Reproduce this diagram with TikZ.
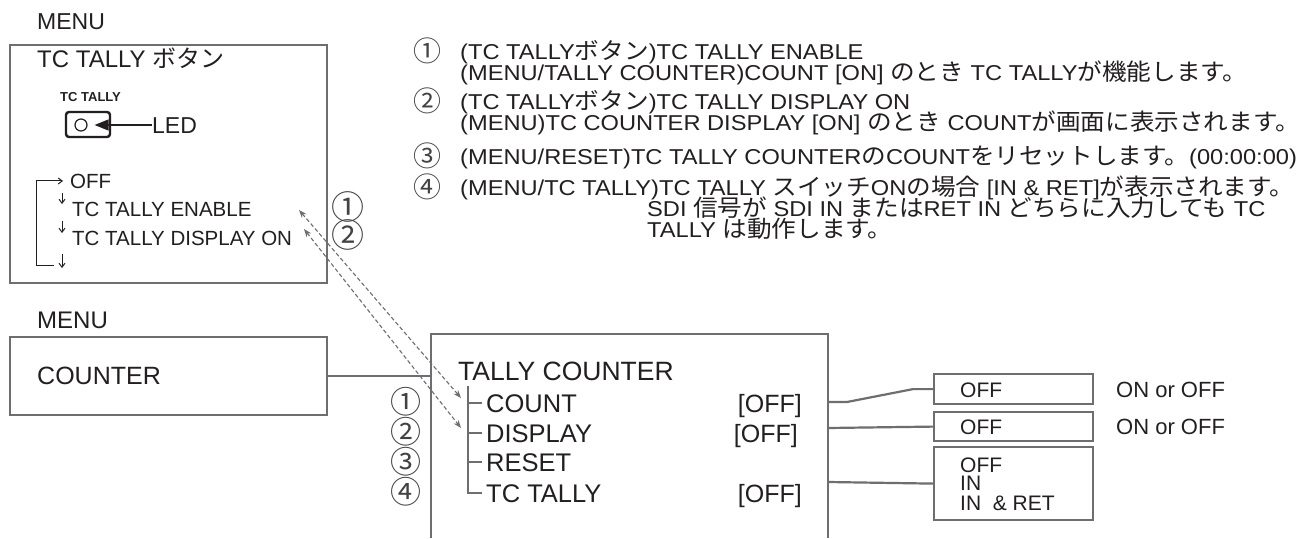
\documentclass[tikz,border=0pt]{standalone}
\usepackage{fontspec}
\setmainfont{Liberation Sans}
\newfontfamily\notefont{Liberation Sans}[FakeStretch=1.1]
\newfontfamily\jp{Noto Sans CJK JP}
\newfontfamily\jpnote{Noto Sans CJK JP}[Scale=1.08, FakeStretch=1.06]
\usetikzlibrary{arrows.meta,positioning}

\definecolor{ink}{HTML}{231F20}
\definecolor{rulegray}{HTML}{6D6E71}
\newcommand{\pxsize}[1]{\fontsize{#1}{#1}\selectfont}
\newcommand{\jn}[1]{{\jpnote #1}}

\tikzset{
  lbl/.style={anchor=base west, inner sep=0pt, text=ink},
  panel/.style={draw=rulegray, line width=2.4pt, inner sep=0pt, anchor=north west},
  optbox/.style={draw=rulegray, line width=2.2pt, inner sep=0pt, anchor=north west},
  link/.style={draw=rulegray, line width=2.2pt},
  dasharrow/.style={rulegray, line width=1.1pt, dash pattern=on 4pt off 2.5pt,
    {Stealth[length=8pt,width=6pt]}-{Stealth[length=8pt,width=6pt]}},
  cnum/.style={inner sep=0pt, text=ink!85, font=\jp\pxsize{28}},
  note/.style={lbl, font=\notefont\pxsize{21.5}},
  cyclearrow/.style={ink, line width=1pt, -{Straight Barb[length=4pt,width=6pt]}},
}

\begin{document}
\begin{tikzpicture}[x=1pt,y=-1pt]
  \useasboundingbox[fill=white] (0,0) rectangle (1311,538);

  % Panel 1: TC TALLY button
  \node[lbl, font=\pxsize{23}] (menutop) at (37,29) {MENU};
  \node[panel, minimum width=317pt, minimum height=238pt] (btnpanel) at (9,44) {};
  \node[lbl, font=\pxsize{24}] (btntitle) at (37,67) {TC TALLY {\jp ボタン}};
  \node[lbl, font=\bfseries\pxsize{13}] (btncap) at (60,101) {TC TALLY};
  \node[draw=ink, line width=2.4pt, rounded corners=3pt, minimum width=44pt,
    minimum height=25pt, inner sep=0pt] (btn) at (88,124.5) {};
  \node[draw=ink, circle, line width=1.2pt, minimum size=12pt, inner sep=0pt] (lamp) at (81,125) {};
  \node[lbl, font=\pxsize{23}] (ledtxt) at (152,133) {LED};
  \draw[ink, line width=1.3pt, -{Triangle[length=14pt,width=11pt]}]
    (ledtxt.west |- lamp) -- ([xshift=7pt]lamp.east);

  % Menu cycle of the button
  \node[lbl, font=\pxsize{20.5}] (offitem) at (70,188) {OFF};
  \node[lbl, font=\pxsize{20.5}] (enableitem) at (72,216) {TC TALLY ENABLE};
  \node[lbl, font=\pxsize{20.5}] (dispitem) at (72,245) {TC TALLY DISPLAY ON};
  \draw[cyclearrow] (54,265) -- (36,265) |- ([xshift=-7pt]offitem.west);
  \foreach \ya/\yb in {193/204, 221/233, 254/268}
    \draw[cyclearrow] (62,\ya) -- (62,\yb);
  \node[cnum, font=\jp\pxsize{33}] (lnum1) at (348,207) {①};
  \node[cnum, font=\jp\pxsize{33}] (lnum2) at (348,235) {②};

  % Panel 2: COUNTER
  \node[lbl, font=\pxsize{24}] (menulow) at (37,328) {MENU};
  \node[panel, minimum width=317pt, minimum height=78pt] (counterbox) at (9,336) {};
  \node[lbl, font=\pxsize{25}] (countertxt) at (37,384) {COUNTER};

  % TALLY COUNTER panel, open at the bottom
  \coordinate (tcNW) at (431,334);
  \coordinate (tcNE) at (828,334);
  \coordinate (tcSW) at (431,538);
  \coordinate (tcSE) at (828,538);
  \draw[link] (tcSW) -- (tcNW) -- (tcNE) -- (tcSE);
  \draw[link] (counterbox.east) -- (counterbox.east -| tcNW);

  \node[lbl, font=\pxsize{26.5}] (tctitle) at (458,380) {TALLY COUNTER};
  \foreach \name/\txt/\y in {count/COUNT/412, disp/DISPLAY/442, reset/RESET/471, tally/TC TALLY/502}
    \node[lbl, font=\pxsize{25.5}] (\name) at (486,\y) {\txt};
  \node[anchor=base east, inner sep=0pt, text=ink, font=\pxsize{25}] (countval) at (802,412) {[OFF]};
  \node[anchor=base east, inner sep=0pt, text=ink, font=\pxsize{25}] (dispval) at (798,442) {[OFF]};
  \node[anchor=base east, inner sep=0pt, text=ink, font=\pxsize{25}] (tallyval) at (802,502) {[OFF]};

  % Tree
  \coordinate (treetop) at (468,386);
  \draw[link] (treetop) |- ([xshift=-4pt]tally.west);
  \foreach \name in {count,disp,reset}
    \draw[link] (treetop |- \name.west) -- ([xshift=-4pt]\name.west);
  \foreach \i/\sym/\y in {1/①/402, 2/②/432, 3/③/462, 4/④/492}
    \node[cnum, font=\jp\pxsize{31}] (tnum\i) at (406,\y) {\sym};

  % Dashed links between the two menus
  \coordinate (enableend) at (299,210);
  \coordinate (dispend) at (304,229);
  \coordinate (countend) at (461,398);
  \coordinate (displayend) at (461,428);
  \draw[dasharrow] (enableend) -- (countend);
  \draw[dasharrow] (dispend) -- (displayend);

  % Option boxes
  \node[optbox, minimum width=159pt, minimum height=30pt] (optcount) at (933,373) {};
  \node[optbox, minimum width=159pt, minimum height=29pt] (optdisp) at (933,411) {};
  \node[optbox, minimum width=159pt, minimum height=73pt] (opttally) at (933,446) {};
  \node[lbl, font=\pxsize{21}] (optcounttxt) at (960,397) {OFF};
  \node[lbl, font=\pxsize{21}] (optdisptxt) at (960,434) {OFF};
  \node[lbl, font=\pxsize{21}] (opttally1) at (960,472) {OFF};
  \node[lbl, font=\pxsize{21}] (opttally2) at (960,490) {IN};
  \node[lbl, font=\pxsize{21}] (opttally3) at (960,510) {IN\ \ \& RET};
  \node[lbl, font=\pxsize{22}] (countrange) at (1116,397) {ON or OFF};
  \node[lbl, font=\pxsize{22}] (disprange) at (1116,434) {ON or OFF};

  \coordinate (countport) at (828,402);
  \coordinate (dispport) at (828,428);
  \coordinate (tallyport) at (828,482);
  \draw[link] (countport) -- ++(19,0) -- ([xshift=-20pt]optcount.west) -- (optcount.west);
  \draw[link] (dispport) -- (optdisp.west);
  \draw[link] (tallyport) -- (opttally.west);

  % Notes
  \node[cnum] (note1) at (427,51) {①};
  \node[note] (note1a) at (460,59) {(TC TALLY\jn{ボタン})TC TALLY ENABLE};
  \node[note] (note1b) at (460,80) {(MENU/TALLY COUNTER)COUNT [ON] \jn{のとき} TC TALLY\jn{が機能します。}};
  \node[cnum] (note2) at (427,101) {②};
  \node[note] (note2a) at (460,109) {(TC TALLY\jn{ボタン})TC TALLY DISPLAY ON};
  \node[note] (note2b) at (460,130) {(MENU)TC COUNTER DISPLAY [ON] \jn{のとき} COUNT\jn{が画面に表示されます。}};
  \node[cnum] (note3) at (427,156) {③};
  \node[note] (note3a) at (460,164) {(MENU/RESET)TC TALLY COUNTER\jn{の}COUNT\jn{をリセットします。}(00:00:00)};
  \node[cnum] (note4) at (427,187) {④};
  \node[note] (note4a) at (460,195) {(MENU/TC TALLY)TC TALLY \jn{スイッチ}ON\jn{の場合} [IN \& RET]\jn{が表示されます。}};
  \node[note] (note4b) at (647,216) {SDI \jn{信号が} SDI IN \jn{または}RET IN \jn{どちらに入力しても} TC};
  \node[note] (note4c) at (647,237) {TALLY \jn{は動作します。}};
\end{tikzpicture}
\end{document}
